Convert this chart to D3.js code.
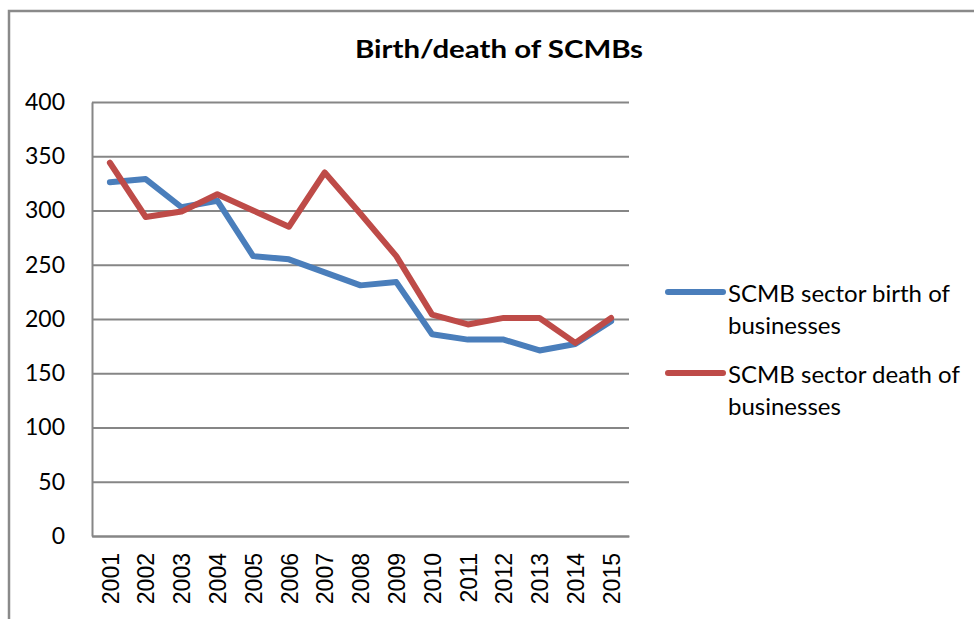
<!DOCTYPE html>
<html>
<head>
<meta charset="utf-8">
<script src="https://cdn.jsdelivr.net/npm/d3@7"></script>
<style>
  html, body { margin: 0; padding: 0; background: #ffffff; }
  svg { display: block; }
  text { font-family: Lato, "Liberation Sans", Arial, sans-serif; fill: #000; }
</style>
</head>
<body>
<svg id="chart" width="974" height="619"></svg>
<script>
// ---- data ----
const years = ["2001","2002","2003","2004","2005","2006","2007","2008","2009","2010","2011","2012","2013","2014","2015"];
const birthValues = [326, 329, 303, 309, 258, 255, 243, 231, 234, 186, 181, 181, 171, 177, 198];
const deathValues = [344, 294, 299, 315, 300, 285, 335, 297, 258, 204, 195, 201, 201, 178, 201];
const seriesNames = ["SCMB sector birth of businesses", "SCMB sector death of businesses"];
const legendLines = [["SCMB sector birth of", "businesses"], ["SCMB sector death of", "businesses"]];
const yTicks = [0, 50, 100, 150, 200, 250, 300, 350, 400];
const titleText = "Birth/death of SCMBs";

const colors = ["#4A7EBB", "#BE4B48"];
const series = [birthValues, deathValues];

const svg = d3.select("#chart");

// outer chart border
svg.append("rect")
  .attr("x", 9).attr("y", 11)
  .attr("width", 1100).attr("height", 800)
  .attr("fill", "#fff")
  .attr("stroke", "#8a8a8a").attr("stroke-width", 2.5);

const plotLeft = 92, plotRight = 629, plotTop = 102, plotBottom = 536;

const x = d3.scalePoint().domain(years).range([plotLeft, plotRight]).padding(0.5);
const y = d3.scaleLinear().domain([0, 400]).range([plotBottom, plotTop]);

// y axis with gridlines
const yAxis = svg.append("g")
  .attr("transform", `translate(${plotLeft},0)`)
  .call(d3.axisLeft(y).tickValues(yTicks).tickSize(-(plotRight - plotLeft)).tickSizeOuter(0).tickPadding(27));
yAxis.selectAll(".tick line").attr("stroke", "#868686").attr("stroke-width", 2);
yAxis.select(".domain").attr("stroke", "#868686").attr("stroke-width", 2);
yAxis.selectAll(".tick text")
  .style("font-size", "23px")
  .attr("fill", "#000");

// x axis
const xAxis = svg.append("g")
  .attr("transform", `translate(0,${plotBottom})`)
  .call(d3.axisBottom(x).tickSize(0).tickSizeOuter(0));
xAxis.select(".domain").attr("stroke", "#868686").attr("stroke-width", 2);
xAxis.selectAll(".tick text")
  .style("font-size", "23px")
  .style("font-family", "'Liberation Sans', Arial, sans-serif")
  .attr("fill", "#000")
  .attr("text-anchor", "end")
  .attr("transform", "rotate(-90)")
  .attr("x", -17)
  .attr("y", 0)
  .attr("dy", "0.36em");

// lines
const line = d3.line()
  .x((d, i) => x(years[i]))
  .y(d => y(d));

series.forEach((vals, k) => {
  svg.append("path")
    .datum(vals)
    .attr("d", line)
    .attr("fill", "none")
    .attr("stroke", colors[k])
    .attr("stroke-width", 6)
    .attr("stroke-linejoin", "round")
    .attr("stroke-linecap", "round");
});

// title
svg.append("text")
  .attr("x", 499).attr("y", 58)
  .attr("text-anchor", "middle")
  .style("font-size", "25px")
  .style("font-weight", "bold")
  .attr("textLength", 288)
  .attr("lengthAdjust", "spacingAndGlyphs")
  .text(titleText);

// legend
const legendY = [292, 373];
const legend = svg.append("g");
seriesNames.forEach((name, k) => {
  const g = legend.append("g").attr("transform", `translate(668,${legendY[k]})`);
  g.append("line")
    .attr("x1", 0).attr("x2", 55)
    .attr("y1", 0).attr("y2", 0)
    .attr("stroke", colors[k]).attr("stroke-width", 6)
    .attr("stroke-linecap", "round");
  const t = g.append("text")
    .attr("x", 60).attr("y", 9.5)
    .style("font-size", "24px");
  legendLines[k].forEach((ln, j) => {
    t.append("tspan").attr("x", 60).attr("dy", j === 0 ? 0 : 32).text(ln);
  });
});
</script>
</body>
</html>
